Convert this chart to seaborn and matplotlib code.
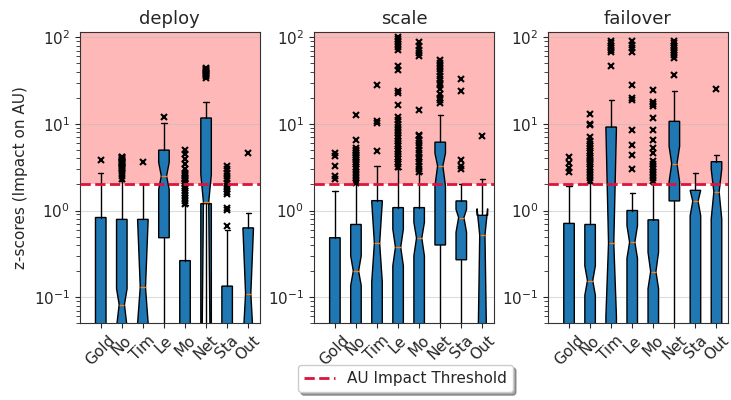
import numpy as np
import matplotlib
matplotlib.use("Agg")
import matplotlib.pyplot as plt
import seaborn as sns

# categories shown on each panel
categories = ["Gold", "No", "Tim", "Le", "Mo", "Net", "Sta", "Out"]
panels = ["deploy", "scale", "failover"]
threshold = 2.0

# box statistics (0.01 / 0.005 = below the visible axis)
deploy_q1 = [0.01, 0.01, 0.01, 0.485, 0.01, 1.2, 0.01, 0.01]
deploy_med = [0.03, 0.082, 0.13, 2.5, 0.03, 1.25, 0.03, 0.11]
deploy_q3 = [0.83, 0.79, 0.79, 4.98, 0.264, 11.7, 0.134, 0.63]
deploy_cilo = [0.02, 0.045, 0.05, 1.75, 0.02, 0.001, 0.02, 0.03]
deploy_cihi = [0.04, 0.125, 0.78, 3.6, 0.04, 2.6, 0.04, 0.62]
deploy_whislo = [0.005] * 8
deploy_whishi = [2.7, 2.2, 2.0, 10.2, 1.15, 17.7, 0.6, 0.93]
deploy_fliers = [
    [3.8],
    [2.3, 2.5, 2.7, 2.9, 3.0, 3.1, 3.2, 3.3, 3.4, 3.5, 3.6, 3.7, 3.8, 3.9, 4.0, 4.1, 4.2],
    [3.6],
    [12.0],
    [1.2, 1.3, 1.4, 1.5, 1.6, 1.7, 1.8, 1.9, 2.0, 2.1, 2.2, 2.3, 2.4, 2.5, 2.6, 2.7,
     3.0, 3.4, 3.9, 4.5, 5.0],
    [34, 36, 37, 38, 39, 40, 41, 42, 43, 44],
    [0.66, 1.02, 1.06, 1.55, 1.65, 1.75, 1.9, 2.1, 2.3, 2.5, 2.7, 3.0, 3.3],
    [4.6],
]

scale_q1 = [0.01, 0.01, 0.01, 0.01, 0.01, 0.4, 0.27, 0.01]
scale_med = [0.03, 0.2, 0.42, 0.376, 0.48, 3.26, 0.83, 0.52]
scale_q3 = [0.485, 0.69, 1.3, 1.08, 1.08, 6.15, 1.29, 0.88]
scale_cilo = [0.02, 0.136, 0.15, 0.23, 0.3, 1.92, 0.56, 0.005]
scale_cihi = [0.04, 0.30, 1.25, 0.61, 0.73, 4.6, 1.03, 1.05]
scale_whislo = [0.005] * 8
scale_whishi = [1.68, 2.0, 3.3, 3.0, 2.7, 12.8, 2.0, 2.3]
scale_fliers = [
    [2.3, 2.5, 3.3, 4.3, 4.6],
    [2.1, 2.2, 2.4, 2.6, 2.8, 3.0, 3.2, 3.4, 3.6, 3.8, 4.0, 4.2, 4.4, 4.6, 4.8, 5.0,
     5.2, 6.5, 12.7],
    [4.8, 10.3, 10.8, 28],
    [3.2, 3.4, 3.6, 3.9, 4.2, 4.5, 4.8, 5.1, 5.5, 5.9, 6.3, 6.8, 7.3, 7.9, 8.5, 9.2,
     10, 11, 12, 16.5, 23, 24, 42, 46, 72, 78, 84, 90, 95, 100],
    [2.8, 3.0, 3.3, 3.6, 3.9, 4.2, 4.6, 5.0, 5.5, 6.0, 6.6, 7.2, 7.5, 14.5, 60, 66, 72,
     80, 88],
    [17.5, 19, 20, 22, 25, 28, 30, 33, 36, 40, 43, 46, 50, 55],
    [3.0, 3.3, 3.8, 24, 33],
    [7.2],
]

failover_q1 = [0.01, 0.01, 0.01, 0.01, 0.01, 1.29, 0.01, 0.01]
failover_med = [0.03, 0.155, 0.42, 0.43, 0.197, 3.47, 1.28, 1.64]
failover_q3 = [0.71, 0.69, 9.2, 1.0, 0.78, 10.7, 1.71, 3.66]
failover_cilo = [0.02, 0.105, 0.06, 0.28, 0.125, 2.14, 0.87, 0.8]
failover_cihi = [0.04, 0.23, 9.0, 0.67, 0.33, 5.5, 1.71, 3.0]
failover_whislo = [0.005] * 8
failover_whishi = [1.9, 2.1, 19, 1.6, 2.0, 23.7, 2.73, 4.4]
failover_fliers = [
    [2.8, 3.1, 3.5, 4.1],
    [2.2, 2.4, 2.6, 2.8, 3.0, 3.2, 3.4, 3.6, 3.8, 4.0, 4.3, 4.6, 4.9, 5.2, 5.5, 5.9,
     6.3, 7.0, 9.8, 10.1, 13],
    [46, 68, 72, 76, 80, 85, 90],
    [3.0, 4.4, 5.7, 8.5, 19, 20, 28, 68, 75, 82, 90],
    [2.2, 2.4, 2.6, 2.8, 3.0, 3.2, 3.4, 3.7, 4.6, 5.3, 6.5, 8.5, 11.7, 16, 17, 18, 24.6],
    [37, 58, 63, 68, 72, 76, 80, 85, 90],
    [],
    [25],
]

panel_stats = {
    "deploy": (deploy_q1, deploy_med, deploy_q3, deploy_cilo, deploy_cihi,
               deploy_whislo, deploy_whishi, deploy_fliers),
    "scale": (scale_q1, scale_med, scale_q3, scale_cilo, scale_cihi,
              scale_whislo, scale_whishi, scale_fliers),
    "failover": (failover_q1, failover_med, failover_q3, failover_cilo, failover_cihi,
                 failover_whislo, failover_whishi, failover_fliers),
}


def build_stats(q1, med, q3, cilo, cihi, whislo, whishi, fliers):
    stats = []
    for i, name in enumerate(categories):
        stats.append(dict(label=name, q1=q1[i], med=med[i], q3=q3[i],
                          cilo=cilo[i], cihi=cihi[i], whislo=whislo[i],
                          whishi=whishi[i], fliers=np.array(fliers[i], dtype=float)))
    return stats


sns.set_style("ticks")
plt.rcParams["font.family"] = ["DejaVu Sans"]

fig, axes = plt.subplots(1, 3, figsize=(7.31, 4.0), dpi=100)
fig.subplots_adjust(left=0.109, right=0.996, top=0.92, bottom=0.192, wspace=0.3)

positions = np.arange(1, len(categories) + 1)
for ax, name in zip(axes, panels):
    stats = build_stats(*panel_stats[name])
    ax.set_yscale("log")
    ax.axhspan(threshold, 1000, color="red", alpha=0.28, lw=0, zorder=0)
    ax.bxp(stats, positions=positions, widths=0.5, patch_artist=True,
           shownotches=True,
           boxprops=dict(facecolor="#1f77b4", edgecolor="black", linewidth=1),
           medianprops=dict(color="#ff7f0e", linewidth=1),
           whiskerprops=dict(color="black", linewidth=1),
           capprops=dict(color="black", linewidth=1),
           flierprops=dict(marker="x", markeredgecolor="black", markersize=5,
                           markeredgewidth=1.5, linestyle="none"))
    line = ax.axhline(threshold, color="crimson", ls="--", lw=2, zorder=4,
                      label="AU Impact Threshold")
    ax.set_ylim(0.05, 115)
    ax.set_xlim(0.0, 8.55)
    ax.set_xticks(positions)
    ax.set_xticklabels(categories, rotation=45, ha="center", fontsize=11)
    ax.tick_params(axis="y", labelsize=11)
    ax.tick_params(axis="y", which="minor", length=3, left=True)
    ax.grid(axis="y", which="major", color="#bbbbbb", alpha=0.5, lw=0.8)
    ax.set_axisbelow(True)
    ax.set_title(name, fontsize=13)
    for sp in ax.spines.values():
        sp.set_color("#333333")

axes[0].set_ylabel("z-scores (Impact on AU)", fontsize=11)

fig.legend(handles=[line], labels=["AU Impact Threshold"], loc="lower center",
           bbox_to_anchor=(0.555, 0.0), fontsize=11, shadow=True, fancybox=True)

fig.savefig("out.png", dpi=100)
